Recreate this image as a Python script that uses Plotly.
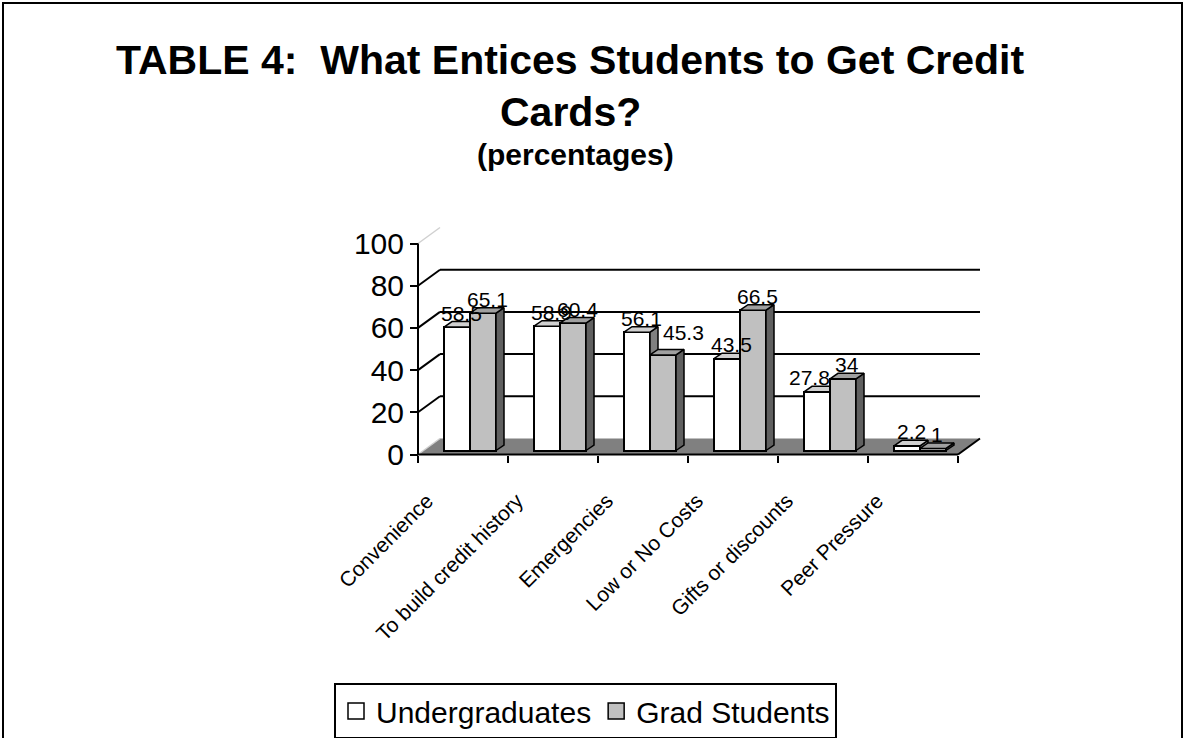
import plotly.graph_objects as go

# ---- data -------------------------------------------------------------
categories = ["Convenience", "To build credit history", "Emergencies",
              "Low or No Costs", "Gifts or discounts", "Peer Pressure"]
undergrad = [58.5, 58.9, 56.1, 43.5, 27.8, 2.2]
grad = [65.1, 60.4, 45.3, 66.5, 34, 1]
y_ticks = [0, 20, 40, 60, 80, 100]
series_names = ["Undergraduates", "Grad Students"]

# ---- page / projection geometry (pixels) ----------------------------
W, H = 1185, 738
FONT = "Liberation Sans, Arial, sans-serif"
X0_PX, PX_PER_CAT = 418, 90.0       # front x=0 location, width of one category
Y0_PX, PX_PER_UNIT = 454.5, 2.11    # front y=0 location, pixels per percent
M_L, M_R, M_T, M_B = 391, 191, 218, 272

plot_w = W - M_L - M_R
plot_h = H - M_T - M_B
x_range = [(M_L - X0_PX) / PX_PER_CAT, (W - M_R - X0_PX) / PX_PER_CAT]
y_range = [-(H - M_B - Y0_PX) / PX_PER_UNIT, (Y0_PX - M_T) / PX_PER_UNIT]


def dx(px):
    return px / PX_PER_CAT


def dy(px):
    return px / PX_PER_UNIT


def paper_x(px):
    return (px - M_L) / plot_w


def paper_y(py):
    return (H - M_B - py) / plot_h


# depth of the back wall, plane of the bars, and depth of each bar
WALL_DX, WALL_DY = dx(22), dy(16)
PLANE_DX, PLANE_DY = dx(7), dy(4)
BAR_DX, BAR_DY = dx(8), dy(5.5)
BAR_W = dx(26)
N = len(categories)

fig = go.Figure()

# ---- floor, walls and gridlines (front axes) -------------------------
fig.add_trace(go.Scatter(
    x=[0, N, N + WALL_DX, WALL_DX, 0], y=[0, 0, WALL_DY, WALL_DY, 0],
    fill="toself", fillcolor="#808080", mode="lines",
    line=dict(width=0), hoverinfo="skip", showlegend=False))
fig.add_trace(go.Scatter(
    x=[N, N + WALL_DX], y=[0, WALL_DY], mode="lines",
    line=dict(color="black", width=2), hoverinfo="skip", showlegend=False))

for v in y_ticks:
    edge = v in (y_ticks[0], y_ticks[-1])
    fig.add_trace(go.Scatter(
        x=[0, WALL_DX], y=[v, v + WALL_DY], mode="lines",
        line=dict(color="#d0d0d0" if edge else "black", width=1.5 if edge else 2),
        hoverinfo="skip", showlegend=False))
    if not edge:
        fig.add_trace(go.Scatter(
            x=[WALL_DX, N + WALL_DX], y=[v + WALL_DY, v + WALL_DY], mode="lines",
            line=dict(color="black", width=2), hoverinfo="skip", showlegend=False))

# front axis lines
fig.add_trace(go.Scatter(x=[0, 0], y=[0, y_ticks[-1]], mode="lines",
                         line=dict(color="black", width=2),
                         hoverinfo="skip", showlegend=False))
fig.add_trace(go.Scatter(x=[0, N], y=[0, 0], mode="lines",
                         line=dict(color="black", width=2),
                         hoverinfo="skip", showlegend=False))

# ---- bars: each series on its own overlaid axes, grad drawn on top ----
styles = [
    dict(front="#ffffff", top="#d0d0d0", side="#808080", offset=-0.5),
    dict(front="#c0c0c0", top="#a0a0a0", side="#606060", offset=0.5),
]
label_nudge = {(0, 4): (-12, 0), (1, 2): (16, 8)}

annotations = []
for s, (vals, st) in enumerate(zip([undergrad, grad], styles)):
    xa, ya = f"x{s + 2}", f"y{s + 2}"
    centers = [i + 0.5 + st["offset"] * BAR_W for i in range(N)]
    fig.add_trace(go.Bar(
        x=centers, y=vals, width=BAR_W, xaxis=xa, yaxis=ya,
        marker=dict(color=st["front"], line=dict(color="black", width=2)),
        name=series_names[s], showlegend=False, hoverinfo="x+y"))

    side_x, side_y, top_x, top_y = [], [], [], []
    for c, v in zip(centers, vals):
        x0, x1 = c - BAR_W / 2, c + BAR_W / 2
        side_x += [x1, x1, x1 + BAR_DX, x1 + BAR_DX, x1, None]
        side_y += [0, v, v + BAR_DY, BAR_DY, 0, None]
        top_x += [x0, x1, x1 + BAR_DX, x0 + BAR_DX, x0, None]
        top_y += [v, v, v + BAR_DY, v + BAR_DY, v, None]
    for fx, fy, col in ((side_x, side_y, st["side"]), (top_x, top_y, st["top"])):
        fig.add_trace(go.Scatter(
            x=fx, y=fy, xaxis=xa, yaxis=ya, fill="toself", fillcolor=col,
            mode="lines", line=dict(color="black", width=1.5),
            hoverinfo="skip", showlegend=False))

    for i, (c, v) in enumerate(zip(centers, vals)):
        nx, ny = label_nudge.get((s, i), (0, 0))
        annotations.append(dict(
            x=c + BAR_DX / 2, y=v + BAR_DY, xref=xa, yref=ya,
            text=f"{v:g}", showarrow=False, xanchor="center", yanchor="bottom",
            xshift=nx, yshift=-5 + ny,
            font=dict(family=FONT, size=21, color="black")))

# legend entries
for name, st in zip(series_names, styles):
    fig.add_trace(go.Scatter(
        x=[None], y=[None], mode="markers", name=name,
        marker=dict(symbol="square", size=18, color=st["front"],
                    line=dict(color="black", width=1.5))))

# ---- titles ------------------------------------------------------------
title_lines = [
    ("TABLE 4:\u00a0 What Entices Students to Get Credit", 41, 570, 60),
    ("Cards?", 41, 570, 112),
    ("(percentages)", 30, 575, 155),
]
for text, size, cx, cy in title_lines:
    annotations.append(dict(
        x=paper_x(cx), y=paper_y(cy), xref="paper", yref="paper",
        text=f"<b>{text}</b>", showarrow=False, xanchor="center", yanchor="middle",
        font=dict(family=FONT, size=size, color="black")))

overlay = dict(visible=False, showgrid=False, zeroline=False, fixedrange=True)
fig.update_layout(
    width=W, height=H,
    margin=dict(l=M_L, r=M_R, t=M_T, b=M_B, pad=0),
    paper_bgcolor="white", plot_bgcolor="rgba(0,0,0,0)",
    font=dict(family=FONT, color="black"),
    bargap=0, barmode="overlay",
    xaxis=dict(range=x_range, anchor="free",
               position=(0 - y_range[0]) / (y_range[1] - y_range[0]),
               showgrid=False, zeroline=False, showline=False,
               tickvals=[i + 0.5 for i in range(N)], ticktext=categories,
               ticks="", tickangle=-45, tickfont=dict(family=FONT, size=21),
               ticklabelstandoff=29, ticklabelshift=-36,
               minor=dict(tickvals=list(range(N + 1)), ticks="outside",
                          ticklen=7, tickwidth=2, tickcolor="black")),
    yaxis=dict(range=y_range, anchor="free",
               position=(0 - x_range[0]) / (x_range[1] - x_range[0]),
               showgrid=False, zeroline=False, showline=False,
               tickvals=y_ticks, ticks="outside", ticklen=8, tickwidth=2,
               tickcolor="black", tickfont=dict(family=FONT, size=30)),
    xaxis2=dict(overlay, overlaying="x", anchor="y2",
                range=[x_range[0] - PLANE_DX, x_range[1] - PLANE_DX]),
    yaxis2=dict(overlay, overlaying="y", anchor="x2",
                range=[y_range[0] - PLANE_DY, y_range[1] - PLANE_DY]),
    xaxis3=dict(overlay, overlaying="x", anchor="y3",
                range=[x_range[0] - PLANE_DX, x_range[1] - PLANE_DX]),
    yaxis3=dict(overlay, overlaying="y", anchor="x3",
                range=[y_range[0] - PLANE_DY, y_range[1] - PLANE_DY]),
    legend=dict(orientation="h", xref="container", yref="container",
                x=334 / W, y=1 - 683 / H, xanchor="left", yanchor="top",
                bgcolor="white", bordercolor="black", borderwidth=2,
                font=dict(family=FONT, size=30, color="black"),
                itemwidth=30, tracegroupgap=0),
    annotations=annotations,
    shapes=[dict(type="path", xref="paper", yref="paper",
                 path=(f"M {paper_x(3)} {paper_y(H + 20)} L {paper_x(3)} {paper_y(3)} "
                       f"L {paper_x(1182)} {paper_y(3)} L {paper_x(1182)} {paper_y(H + 20)}"),
                 line=dict(color="black", width=2))],
    showlegend=True,
)

fig.write_html("out.html")
